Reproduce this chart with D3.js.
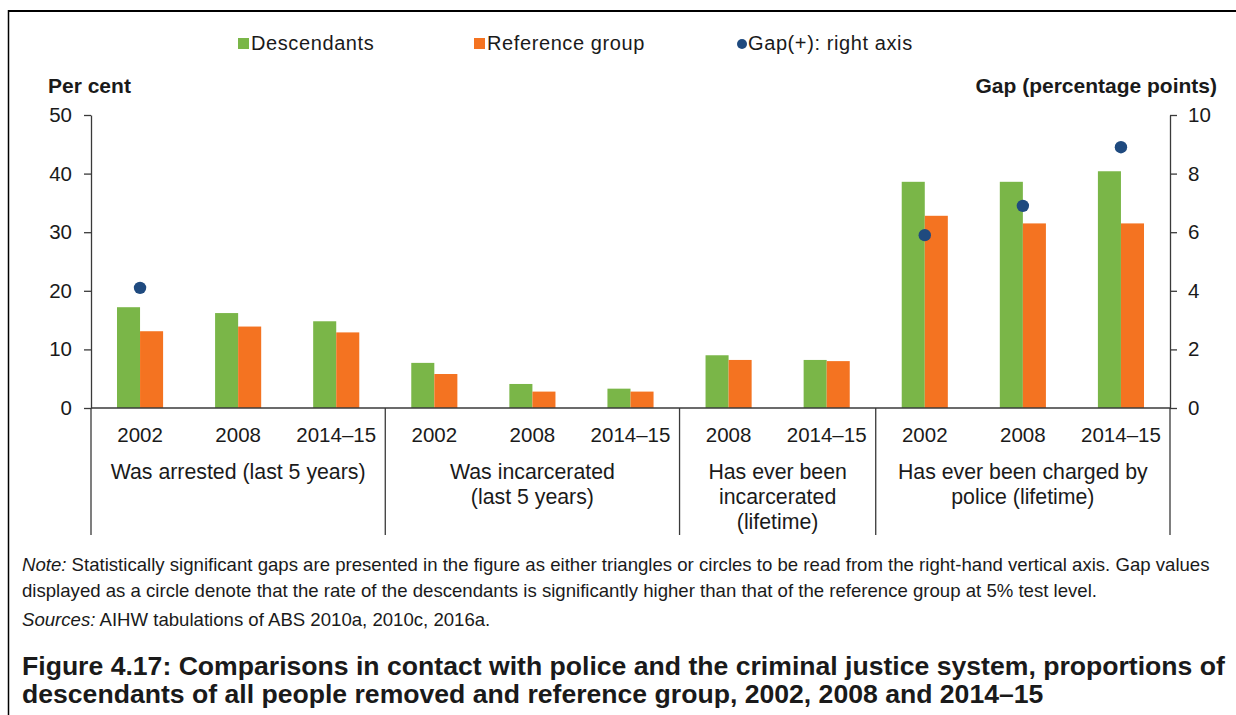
<!DOCTYPE html>
<html><head><meta charset="utf-8">
<script src="https://cdn.jsdelivr.net/npm/d3@7"></script>
<style>
body{margin:0;background:#fff;}
svg text{font-family:"Liberation Sans",Arial,sans-serif;fill:#1a1a1a;}
</style></head>
<body><svg id="c" width="1236" height="715"></svg>
<script>
const years = ["2002","2008","2014–15","2002","2008","2014–15","2008","2014–15","2002","2008","2014–15"];
const groupLabels = [
  ["Was arrested (last 5 years)"],
  ["Was incarcerated","(last 5 years)"],
  ["Has ever been","incarcerated","(lifetime)"],
  ["Has ever been charged by","police (lifetime)"]
];
const groupSizes = [3,3,2,3];
const descendants = [17.2,16.2,14.8,7.7,4.1,3.3,9.0,8.2,38.6,38.6,40.4];
const reference  = [13.1,13.9,12.9,5.8,2.8,2.8,8.2,8.0,32.8,31.5,31.5];
const gap        = [4.1,null,null,null,null,null,null,null,5.9,6.9,8.9];
const leftTicks = [0,10,20,30,40,50];
const rightTicks = [0,2,4,6,8,10];
const seriesNames = ["Descendants","Reference group","Gap(+): right axis"];
const colors = {desc:"#7ab648", ref:"#f47321", gap:"#1f4a7f"};

const svg = d3.select("#c");
const L = 91, R = 1170, T = 115, B = 408;
const idx = d3.range(years.length);
const x = d3.scaleBand().domain(idx).range([L,R]).padding(0);
const y = d3.scaleLinear().domain([0,50]).range([B,T]);
const y2 = d3.scaleLinear().domain([0,10]).range([B,T]);
const bw = x.bandwidth()*0.235;

// border
svg.append("line").attr("x1",8).attr("x2",1236).attr("y1",11).attr("y2",11).attr("stroke","#000").attr("stroke-width",2);
svg.append("line").attr("x1",8.5).attr("x2",8.5).attr("y1",10).attr("y2",715).attr("stroke","#000").attr("stroke-width",1.5);

// bars
svg.append("g").selectAll("rect").data(idx).join("rect")
  .attr("x",i=>x(i)+x.bandwidth()/2-bw).attr("width",bw)
  .attr("y",i=>y(descendants[i])).attr("height",i=>B-y(descendants[i])).attr("fill",colors.desc);
svg.append("g").selectAll("rect").data(idx).join("rect")
  .attr("x",i=>x(i)+x.bandwidth()/2).attr("width",bw)
  .attr("y",i=>y(reference[i])).attr("height",i=>B-y(reference[i])).attr("fill",colors.ref);
svg.append("g").selectAll("circle").data(idx.filter(i=>gap[i]!=null)).join("circle")
  .attr("cx",i=>x(i)+x.bandwidth()/2).attr("cy",i=>y2(gap[i])).attr("r",6.2).attr("fill",colors.gap);

// axes
const axisColor = "#3a3a3a";
const gl = svg.append("g").attr("transform",`translate(${L},0)`)
  .call(d3.axisLeft(y).tickValues(leftTicks).tickSizeInner(7).tickSizeOuter(0).tickPadding(12));
const gr = svg.append("g").attr("transform",`translate(${R},0)`)
  .call(d3.axisRight(y2).tickValues(rightTicks).tickSizeInner(7).tickSizeOuter(0).tickPadding(11));
[gl,gr].forEach(g=>{
  g.selectAll("path,line").attr("stroke",axisColor).attr("stroke-width",1.3);
  g.selectAll("text").attr("font-size",20.5).attr("fill","#1a1a1a").attr("font-family","Liberation Sans, Arial, sans-serif");
});
svg.append("line").attr("x1",L).attr("x2",R).attr("y1",B).attr("y2",B).attr("stroke",axisColor).attr("stroke-width",1.3);

// category labels
svg.append("g").selectAll("text").data(idx).join("text")
  .attr("x",i=>x(i)+x.bandwidth()/2).attr("y",442).attr("text-anchor","middle")
  .attr("font-size",20.5).text(i=>years[i]);

// dividers and group labels
let start = 0;
const bounds=[0];
groupSizes.forEach(s=>{start+=s;bounds.push(start);});
bounds.forEach(b=>{
  const xx = b<years.length ? x(b) : R;
  svg.append("line").attr("x1",xx).attr("x2",xx).attr("y1",B).attr("y2",535).attr("stroke",axisColor).attr("stroke-width",1.3);
});
groupLabels.forEach((lines,gi)=>{
  const x0 = x(bounds[gi]);
  const x1 = bounds[gi+1]<years.length ? x(bounds[gi+1]) : R;
  lines.forEach((ln,li)=>{
    svg.append("text").attr("x",(x0+x1)/2).attr("y",479+li*25).attr("text-anchor","middle")
      .attr("font-size",21.3).text(ln);
  });
});

// axis titles
svg.append("text").attr("x",48).attr("y",93).attr("font-size",21).attr("font-weight","bold").text("Per cent");
svg.append("text").attr("x",1217).attr("y",93).attr("font-size",21).attr("font-weight","bold").attr("text-anchor","end").text("Gap (percentage points)");

// legend
const lg = svg.append("g").attr("letter-spacing","0.6px");
lg.append("rect").attr("x",238).attr("y",38).attr("width",11).attr("height",11).attr("fill",colors.desc);
lg.append("text").attr("x",251).attr("y",50).attr("font-size",20).text(seriesNames[0]);
lg.append("rect").attr("x",474).attr("y",38).attr("width",11).attr("height",11).attr("fill",colors.ref);
lg.append("text").attr("x",487).attr("y",50).attr("font-size",20).text(seriesNames[1]);
lg.append("circle").attr("cx",742).attr("cy",44).attr("r",5).attr("fill",colors.gap);
lg.append("text").attr("x",748).attr("y",50).attr("font-size",20).text(seriesNames[2]);

// notes
const nfs = 18.6;
const n1 = svg.append("text").attr("x",22).attr("y",571).attr("font-size",nfs);
n1.append("tspan").attr("font-style","italic").text("Note:");
n1.append("tspan").text(" Statistically significant gaps are presented in the figure as either triangles or circles to be read from the right-hand vertical axis. Gap values");
svg.append("text").attr("x",22).attr("y",597).attr("font-size",nfs)
  .text("displayed as a circle denote that the rate of the descendants is significantly higher than that of the reference group at 5% test level.");
const n3 = svg.append("text").attr("x",22).attr("y",626).attr("font-size",nfs);
n3.append("tspan").attr("font-style","italic").text("Sources:");
n3.append("tspan").text(" AIHW tabulations of ABS 2010a, 2010c, 2016a.");

svg.append("text").attr("x",22).attr("y",675).attr("font-size",26.6).attr("font-weight","bold")
  .text("Figure 4.17: Comparisons in contact with police and the criminal justice system, proportions of");
svg.append("text").attr("x",22).attr("y",703).attr("font-size",26.6).attr("font-weight","bold")
  .text("descendants of all people removed and reference group, 2002, 2008 and 2014–15");
</script></body></html>
